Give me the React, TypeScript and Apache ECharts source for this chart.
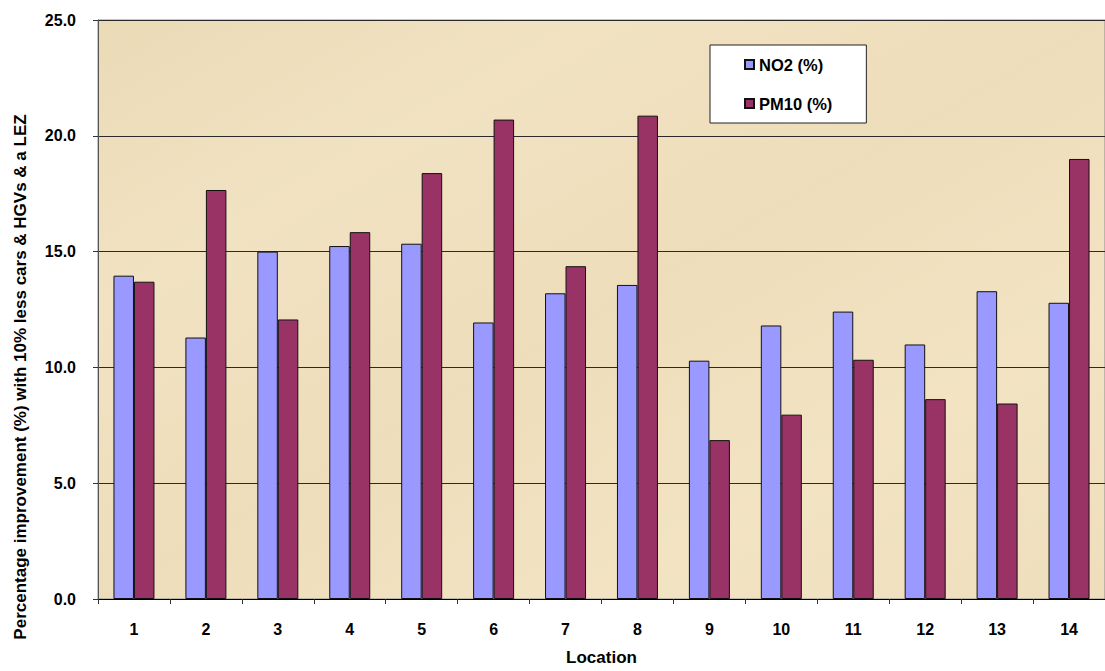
import React, { useEffect, useRef } from "react";
import * as echarts from "echarts";

const categories = ["1", "2", "3", "4", "5", "6", "7", "8", "9", "10", "11", "12", "13", "14"];
const no2Values = [13.96, 11.29, 15.0, 15.24, 15.34, 11.94, 13.2, 13.56, 10.29, 11.81, 12.41, 10.99, 13.29, 12.79];
const pm10Values = [13.7, 17.66, 12.07, 15.84, 18.39, 20.7, 14.37, 20.87, 6.86, 7.96, 10.33, 8.63, 8.44, 19.0];
const yTicks = { min: 0, max: 25, interval: 5 };
const yAxisTitle = "Percentage improvement (%) with 10% less cars & HGVs & a LEZ";
const xAxisTitle = "Location";
const seriesNames = ["NO2 (%)", "PM10 (%)"];

const FONT = "Arial, 'Liberation Sans', sans-serif";

export default function App() {
  const ref = useRef<HTMLDivElement>(null);
  useEffect(() => {
    if (!ref.current) return;
    const chart = echarts.init(ref.current, null, { renderer: "svg" });
    chart.setOption({
      animation: false,
      backgroundColor: "#ffffff",
      textStyle: { fontFamily: FONT },
      grid: {
        left: 98,
        top: 20,
        right: -9,
        bottom: 69,
        show: true,
        backgroundColor: {
          type: "linear",
          x: 0,
          y: 0,
          x2: 1,
          y2: 1,
          colorStops: [
            { offset: 0, color: "#EBDAB6" },
            { offset: 0.25, color: "#F1E2C2" },
            { offset: 0.5, color: "#EEDDBA" },
            { offset: 0.75, color: "#F2E3C3" },
            { offset: 1, color: "#EEDEBC" },
          ],
        },
        borderColor: "#8a8a8a",
        borderWidth: 1,
      },
      legend: {
        orient: "vertical",
        left: 710,
        top: 45,
        padding: [11, 34, 11, 34],
        itemGap: 22,
        itemWidth: 9,
        itemHeight: 9,
        icon: "rect",
        backgroundColor: "#ffffff",
        borderColor: "#222",
        borderWidth: 1,
        textStyle: { fontFamily: FONT, fontWeight: "bold", fontSize: 16.5, color: "#000" },
        data: seriesNames,
      },
      xAxis: {
        type: "category",
        data: categories,
        name: xAxisTitle,
        nameLocation: "middle",
        nameGap: 50,
        nameTextStyle: { fontFamily: FONT, fontWeight: "bold", fontSize: 17, color: "#000" },
        axisLine: { lineStyle: { color: "#000", width: 1 } },
        axisTick: { show: true, length: 5, lineStyle: { color: "#333" } },
        axisLabel: { fontFamily: FONT, fontWeight: "bold", fontSize: 16, color: "#000", margin: 22 },
        splitLine: { show: false },
      },
      yAxis: {
        type: "value",
        min: yTicks.min,
        max: yTicks.max,
        interval: yTicks.interval,
        axisLine: { show: true, lineStyle: { color: "#555", width: 1 } },
        axisTick: { show: true, length: 5, lineStyle: { color: "#333" } },
        axisLabel: {
          fontFamily: FONT,
          fontWeight: "bold",
          fontSize: 16,
          color: "#000",
          margin: 22,
          formatter: (v: number) => v.toFixed(1),
        },
        splitLine: { show: true, lineStyle: { color: "#2a2a2a", width: 1 } },
      },
      graphic: [
        {
          type: "text",
          x: 20,
          y: 377,
          rotation: Math.PI / 2,
          style: {
            text: yAxisTitle,
            fontFamily: FONT,
            fontWeight: "bold",
            fontSize: 17,
            fill: "#000",
            align: "center",
            verticalAlign: "middle",
          },
        },
      ],
      series: [
        {
          name: seriesNames[0],
          type: "bar",
          data: no2Values,
          barGap: "0%",
          barCategoryGap: "43%",
          itemStyle: { color: "#9999FF", borderColor: "#111", borderWidth: 1 },
        },
        {
          name: seriesNames[1],
          type: "bar",
          data: pm10Values,
          barGap: "0%",
          barCategoryGap: "43%",
          itemStyle: { color: "#993366", borderColor: "#111", borderWidth: 1 },
        },
      ],
    });
    return () => chart.dispose();
  }, []);
  return (
    <div
      ref={ref}
      style={{ position: "fixed", left: 0, top: 0, width: 1105, height: 671 }}
    />
  );
}
